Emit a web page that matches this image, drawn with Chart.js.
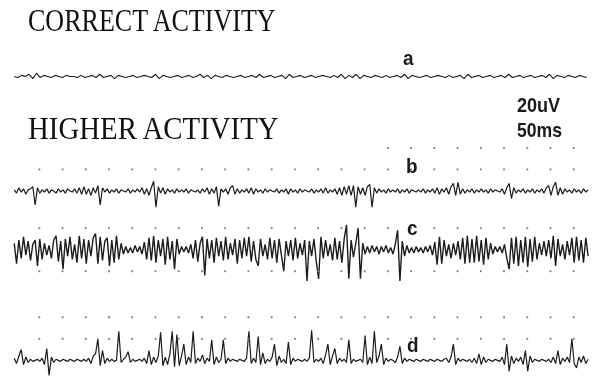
<!DOCTYPE html>
<html>
<head>
<meta charset="utf-8">
<script src="https://cdn.jsdelivr.net/npm/chart.js@4/dist/chart.umd.min.js"></script>
<style>
  html, body { margin: 0; padding: 0; background: #ffffff; }
  #wrap { position: relative; width: 594px; height: 380px; overflow: hidden; background: #ffffff; }
  #emg { position: absolute; left: 0; top: 0; }
  .title {
    position: absolute; font-family: "Liberation Serif", "Times New Roman", serif;
    font-size: 31px; line-height: 1; color: #111111; white-space: nowrap;
    transform-origin: 0 0;
  }
  .cal, .tag {
    position: absolute; font-family: "Liberation Sans", Arial, sans-serif; font-weight: bold;
    font-size: 21px; line-height: 1; color: #1a1a1a; white-space: nowrap; transform-origin: 0 0;
  }
</style>
</head>
<body>
<div id="wrap">
  <canvas id="emg" width="594" height="380"></canvas>
  <div class="title" style="left:28px; top:5px; transform:scaleX(0.84);">CORRECT ACTIVITY</div>
  <div class="title" style="left:28px; top:113px; transform:scaleX(0.93);">HIGHER ACTIVITY</div>
  <div class="cal" style="left:517px; top:94px; transform:scaleX(0.86);">20uV</div>
  <div class="cal" style="left:517px; top:119px; transform:scaleX(0.84);">50ms</div>
  <div class="tag" style="left:403px; top:47px; transform:scaleX(0.9);">a</div>
  <div class="tag" style="left:406px; top:155px; transform:scaleX(0.9);">b</div>
  <div class="tag" style="left:407px; top:217px; transform:scaleX(0.9);">c</div>
  <div class="tag" style="left:407px; top:334px; transform:scaleX(0.9);">d</div>
</div>
<script>
// Surface EMG recordings, amplitude in µV, sampled from t = 22 ms.
const SWEEP_MS = 1261;
const START_MS = 22;
const STEP_A_MS = 8;
const STEP_MS = 5;

// a: correct activity
const traceA = [
  0, -1, 1, 0, 2, -2, 3, -1, 1, 0,
  -1, 1, 0, -1, 1, 0, 0, -1, 1, -1,
  0, 1, -1, 2, -1, 0, 1, -2, 1, 0,
  -1, 0, 1, -1, 0, 1, 0, -1, 2, -2,
  1, 0, -1, 0, 1, -1, 0, 1, -1, 0,
  2, -1, 1, -2, 1, 0, -1, 1, 0, -1,
  0, 1, -1, 0, 1, -1, 2, -1, 0, 1,
  -1, 0, 1, -2, 2, -1, 0, 1, -1, 0,
  1, -1, 0, 1, 0, -1, 1, -1, 2, -2,
  1, -1, 2, -2, 1, 0, -1, 1, 0, -1,
  1, -1, 0, 1, -1, 2, -2, 1, 0, -1,
  0, 1, -1, 0, 1, 0, -1, 1, -1, 0,
  1, -2, 2, -1, 0, 1, -1, 0, 1, -1,
  0, 1, -1, 2, -1, 0, 1, -1, 0, 1,
  -1, 0, 1, -1, 2, -2, 1, 0, -1, 1,
  0, -1, 1, 0, -1
];

// b: higher activity, first record
const traceB = [
  1, -2, 3, -1, 2, -3, 1, 2, 4, -13,
  3, -2, 1, -1, 2, -2, 1, 0, -2, 2,
  -1, 1, -2, 2, 0, -1, 2, -2, 3, -3,
  4, -3, 2, -4, 3, -2, 5, -13, 3, -1,
  2, -2, 1, -1, 2, -2, 1, 0, -1, 2,
  -2, 1, -1, 2, -1, 3, -3, 2, -4, 3,
  9, -15, 4, -2, 3, -3, 2, -1, 1, -2,
  2, -1, 1, -1, 2, -2, 1, 0, -1, 1,
  -2, 2, -1, 3, -3, 2, -2, 4, -14, 2,
  -1, 2, -3, 3, 5, -3, 2, -2, 1, -1,
  2, -2, 3, -3, 2, -1, 1, -2, 2, -1,
  1, 0, -1, 2, -2, 1, -1, 2, -3, 2,
  -1, 1, -2, 2, -1, 1, 0, -1, 2, -2,
  1, -1, 2, -2, 3, -2, 1, -1, 2, -3,
  3, -4, 4, -3, 5, -4, 5, -15, 4, -3,
  3, -4, 4, 6, -15, 3, -2, 2, -1, 1,
  -2, 2, -1, 1, -1, 2, -2, 1, -1, 2,
  -2, 1, 0, -1, 1, -1, 2, -2, 1, -1,
  2, -2, 3, -3, 2, -1, 3, -3, 4, 7,
  -4, 8, -3, 2, -2, 1, -1, 2, -2, 1,
  -1, 2, -1, 1, -2, 2, -1, 1, 0, -1,
  2, -3, 3, 7, -7, 3, -2, 1, -1, 2,
  -2, 1, -1, 2, -2, 1, -1, 2, -2, 3,
  5, -4, 4, 8, -4, 3, -3, 2, -1, 1,
  -2, 2, -1, 1, -2, 2, -1, 1
];

// c: higher activity, dense interference pattern
const traceC = [
  6, -13, 9, -8, 12, -5, 8, -10, 5, 9,
  -15, 10, -9, 6, -5, 4, -8, 9, 13, -11,
  8, -18, 10, -6, 12, -9, 5, -12, 13, -8,
  10, -13, 9, -6, 11, 15, -13, 12, -10, 8,
  11, -15, 9, -12, 13, -9, 6, -4, 3, -3,
  2, -3, 4, -2, 3, -4, 7, -9, 11, -10,
  13, -12, 9, -6, 10, -14, 12, -9, 8, -18,
  10, -4, 3, -2, 3, -3, 5, -8, 9, -11,
  6, 12, -24, 10, -8, 9, -12, 11, -6, 8,
  -10, 12, -9, 6, -5, 10, -13, 9, -8, 11,
  -6, 12, -11, 8, -9, -15, 10, -6, 5, -9,
  11, -8, 9, -12, 10, -5, -20, 8, -6, 9,
  -10, 11, -8, 6, -5, 9, -29, 8, -6, 10,
  -11, -27, 12, -8, 9, -6, 5, -10, 11, -9,
  8, -12, 10, 23, -27, 9, -7, 6, 20, -27,
  6, -4, 3, -3, 4, -2, 3, -4, 3, -2,
  4, -3, 2, -4, 5, 18, -29, 8, -6, 4,
  -3, 2, -3, 3, -2, 2, -3, 3, -2, 4,
  -5, 7, -14, 12, -13, 9, -6, 5, -8, 6,
  -5, 8, -9, 11, -13, 13, -12, 10, -12, 13,
  -11, 9, -14, 11, -9, 6, -4, 3, -2, 3,
  -3, 5, -8, -18, 11, -13, 12, -15, 9, -12,
  12, -16, 10, -11, 12, -9, 6, -5, 8, -6,
  9, -8, 13, -15, 10, -6, 5, -9, 8, -5,
  11, -12, 12, -10, 9, -12, 11, -6
];

// d: higher activity, isolated motor unit spikes
const traceD = [
  2, -3, 4, 10, -4, 3, -2, 1, -1, 0,
  1, -1, 2, -4, 11, -14, 3, -2, 1, 0,
  -1, 1, 0, -1, 1, 0, -1, 1, 0, -1,
  1, -1, 2, -3, 4, 6, 20, -5, 9, -3,
  2, -1, 1, -1, 0, 27, -2, 1, 3, 8,
  -2, 1, -1, 0, 1, -1, 2, -3, 9, -4,
  3, -2, 4, 26, -5, 3, -4, 6, 27, -6,
  24, -5, 4, 15, -4, 3, -2, 27, -3, 2,
  -1, 5, -3, 2, -1, 19, -4, 3, -2, 1,
  19, -3, 2, -1, 1, 0, -1, 1, 0, -1,
  2, 27, -3, 2, -2, 22, -4, 7, -3, 1,
  -1, 3, 15, -5, 4, -2, 1, -3, 17, -4,
  2, -1, 1, 0, -1, 1, -1, 2, 28, -2,
  1, -1, 2, -3, 5, 15, -4, 4, 11, -3,
  2, -1, 1, -2, 19, -3, 1, -1, 0, 1,
  -2, 23, -4, 3, -3, 27, -2, 4, 15, -4,
  2, -1, 1, 0, -2, 3, 13, -3, 2, -1,
  1, 0, -1, 1, 0, -1, 1, 0, -1, 1,
  0, -1, 1, 0, -1, 1, 2, -2, 3, 15,
  -4, 2, -1, 1, 0, -1, 1, -2, 2, -3,
  6, -4, 3, -2, 1, 0, -1, 1, 0, -1,
  3, -4, 15, -10, 4, -3, 2, -1, 3, -4,
  9, -10, 4, -2, 1, 0, -1, 1, 0, -1,
  1, -2, 3, -3, 9, -4, 2, -1, 3, -2,
  20, -3, -7, 3, -2, 4, -3, 1
];

// Reference grid: 50 ms columns, 20 µV rows
const gridColumnsMs = [76, 126, 176, 226, 276, 326, 376, 426, 476, 526, 576, 626,
                       676, 726, 776, 826, 876, 926, 976, 1026, 1076, 1126, 1176, 1226];
const gridRowsB = [20, 40];
const gridRowsC = [20, -20];
const gridRowsD = [20, 40];
const gridRowStartB = [76, 826];
const gridRowStartC = [76, 76];
const gridRowStartD = [76, 76];

// Vertical placement of each record on the page (µV axis windows, 1.1 px per µV)
const PX_PER_UV = 1.1;
const HEIGHT = 380;
function uvWindow(baselinePx) {
  return { min: -(HEIGHT - baselinePx) / PX_PER_UV, max: baselinePx / PX_PER_UV };
}

function toPoints(values, t0, dt) {
  return values.map((v, i) => ({ x: t0 + i * dt, y: v }));
}
function gridPoints(rows, starts) {
  const pts = [];
  rows.forEach((level, r) => {
    gridColumnsMs.forEach(t => { if (t >= starts[r]) pts.push({ x: t, y: level }); });
  });
  return pts;
}

const traceStyle = (width) => ({
  type: 'line', borderColor: '#1c1c1c', borderWidth: width, pointRadius: 0,
  tension: 0, fill: false, borderJoinStyle: 'bevel'
});
const dotStyle = {
  type: 'scatter', showLine: false, pointStyle: 'rect', pointRadius: 1.3,
  pointBackgroundColor: '#7a7a7a', pointBorderWidth: 0, borderColor: '#7a7a7a'
};

const wA = uvWindow(74), wB = uvWindow(191), wC = uvWindow(251), wD = uvWindow(364);

new Chart(document.getElementById('emg'), {
  type: 'line',
  data: {
    datasets: [
      Object.assign({ label: 'grid b', yAxisID: 'yB', data: gridPoints(gridRowsB, gridRowStartB) }, dotStyle),
      Object.assign({ label: 'grid c', yAxisID: 'yC', data: gridPoints(gridRowsC, gridRowStartC) }, dotStyle),
      Object.assign({ label: 'grid d', yAxisID: 'yD', data: gridPoints(gridRowsD, gridRowStartD) }, dotStyle),
      Object.assign({ label: 'a', yAxisID: 'yA', data: toPoints(traceA, START_MS, STEP_A_MS) }, traceStyle(1.1)),
      Object.assign({ label: 'b', yAxisID: 'yB', data: toPoints(traceB, START_MS, STEP_MS) }, traceStyle(1.2)),
      Object.assign({ label: 'c', yAxisID: 'yC', data: toPoints(traceC, START_MS, STEP_MS) }, traceStyle(1.4)),
      Object.assign({ label: 'd', yAxisID: 'yD', data: toPoints(traceD, START_MS, STEP_MS) }, traceStyle(1.2))
    ]
  },
  options: {
    responsive: false,
    animation: false,
    events: [],
    layout: { padding: 0 },
    plugins: { legend: { display: false }, tooltip: { enabled: false } },
    scales: {
      x: { type: 'linear', min: 0, max: SWEEP_MS, display: false },
      yA: { type: 'linear', min: wA.min, max: wA.max, display: false },
      yB: { type: 'linear', min: wB.min, max: wB.max, display: false },
      yC: { type: 'linear', min: wC.min, max: wC.max, display: false },
      yD: { type: 'linear', min: wD.min, max: wD.max, display: false }
    }
  }
});
</script>
</body>
</html>
